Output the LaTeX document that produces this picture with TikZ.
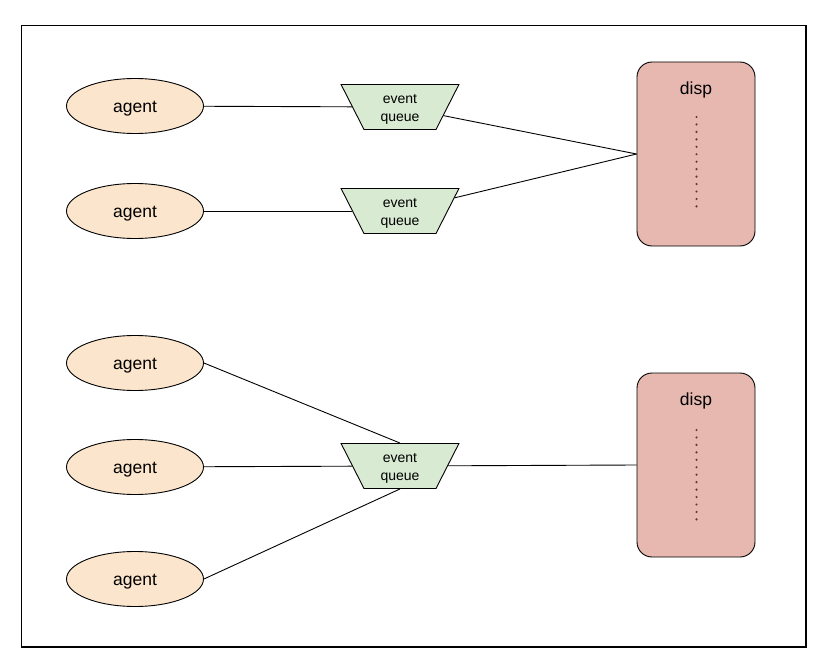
\documentclass[tikz,border=0pt]{standalone}
\usepackage{fontspec}
\setmainfont{Liberation Sans}
\usetikzlibrary{shapes.geometric,calc}
\definecolor{agentfill}{HTML}{FCE5CD}
\definecolor{queuefill}{HTML}{D9EAD3}
\definecolor{dispfill}{HTML}{E6B8AF}
\definecolor{dotcol}{HTML}{5A3A36}
\tikzset{
  agentnode/.style={ellipse, draw=black, line width=0.9pt, fill=agentfill, minimum width=137pt, minimum height=55pt, inner sep=0pt, text height=13pt, text depth=0pt, font=\fontsize{17.5}{20}\selectfont},
  queuenode/.style={trapezium, shape border rotate=180, trapezium left angle=63, trapezium right angle=63, draw=black, line width=0.9pt, fill=queuefill, inner sep=0pt, text width=72pt, text height=22.5pt, text depth=22.5pt},
  queuetext/.style={align=center, inner sep=0pt, yshift=-2pt, font=\fontsize{14}{18}\selectfont},
  dispnode/.style={rectangle, rounded corners=15pt, draw=black, line width=0.9pt, fill=dispfill, minimum width=118pt, minimum height=184pt, inner sep=0pt},
  disptext/.style={font=\fontsize{17.5}{20}\selectfont, inner sep=0pt},
  conn/.style={draw=black, line width=0.9pt},
}
\begin{document}
\begin{tikzpicture}[x=1pt,y=-1pt]
\useasboundingbox (0,0) rectangle (823,669);
\fill[white] (0,0) rectangle (823,669);
\draw[line width=1.1pt] (21.5,25.5) rectangle (806,647);

% top group
\node[agentnode] (a1) at (135,106) {agent};
\node[agentnode] (a2) at (135,211) {agent};
\node[queuenode] (q1) at (400,107) {\strut};
\node[queuetext] (q1t) at (q1.center) {event\\queue};
\node[queuenode] (q2) at (400,211) {\strut};
\node[queuetext] (q2t) at (q2.center) {event\\queue};
\node[dispnode] (d1) at (696,154) {};
\node[disptext] (t1) at (696,90) {disp};
\foreach \i in {0,...,12} {\fill[dotcol] (696.5,117+7.45*\i) circle (1.2pt);}

\draw[conn] (a1) -- (q1);
\draw[conn] (a2) -- (q2);
\draw[conn] (q1) -- (d1.west);
\draw[conn] (q2) -- (d1.west);

% bottom group
\node[agentnode] (a3) at (135,363) {agent};
\node[agentnode] (a4) at (135,467) {agent};
\node[agentnode] (a5) at (135,579) {agent};
\node[queuenode] (q3) at (400,466) {\strut};
\node[queuetext] (q3t) at (q3.center) {event\\queue};
\node[dispnode] (d2) at (696,465) {};
\node[disptext] (t2) at (696,401) {disp};
\foreach \i in {0,...,12} {\fill[dotcol] (696.5,430+7.45*\i) circle (1.2pt);}

\draw[conn] (a3.east) -- (q3.north);
\draw[conn] (a4) -- (q3);
\draw[conn] (a5.east) -- (q3.south);
\draw[conn] (q3) -- (d2.west);
\end{tikzpicture}
\end{document}
